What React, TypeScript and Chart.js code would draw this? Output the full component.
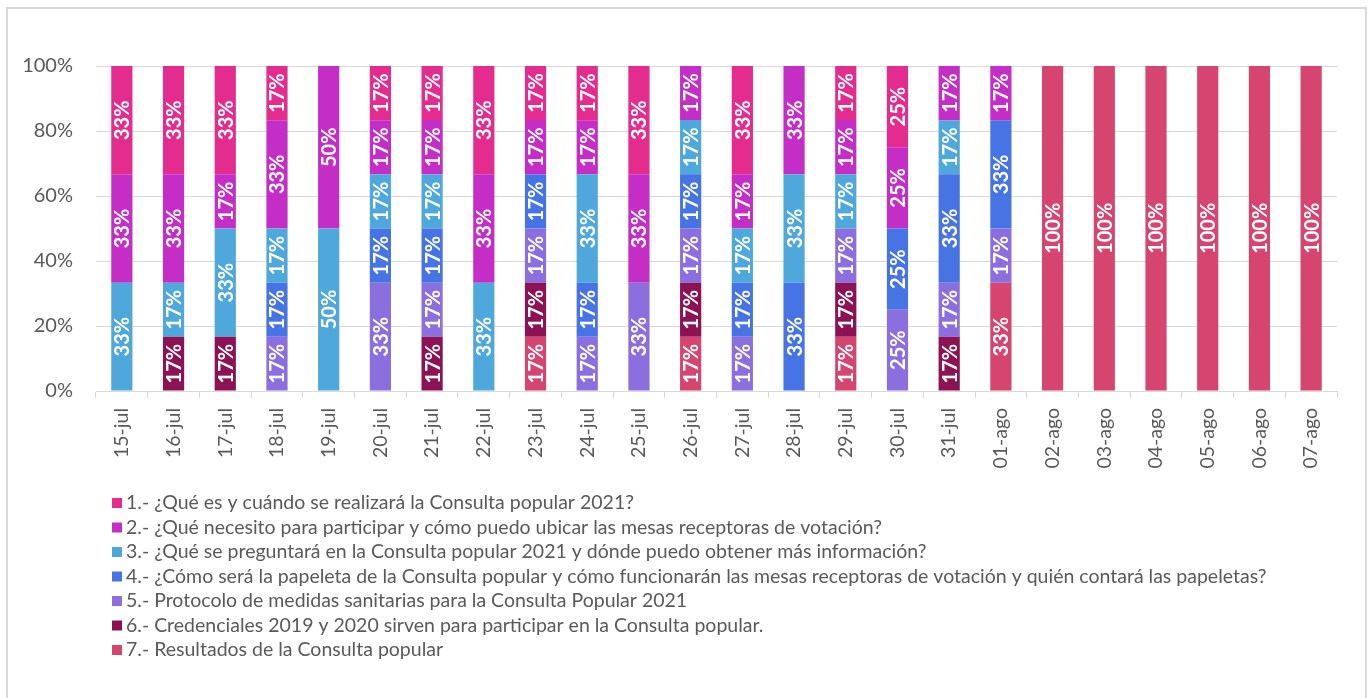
import { useEffect, useRef } from "react";
import { Chart, registerables } from "chart.js";

Chart.register(...registerables);

const categories = [
  "15-jul", "16-jul", "17-jul", "18-jul", "19-jul", "20-jul", "21-jul", "22-jul",
  "23-jul", "24-jul", "25-jul", "26-jul", "27-jul", "28-jul", "29-jul", "30-jul",
  "31-jul", "01-ago", "02-ago", "03-ago", "04-ago", "05-ago", "06-ago", "07-ago",
];

const serie1 = [33.33, 33.33, 33.33, 16.67, 0, 16.67, 16.67, 33.33, 16.67, 16.67, 33.33, 0, 33.33, 0, 16.67, 25, 0, 0, 0, 0, 0, 0, 0, 0];
const serie2 = [33.33, 33.33, 16.67, 33.33, 50, 16.67, 16.67, 33.33, 16.67, 16.67, 33.33, 16.67, 16.67, 33.33, 16.67, 25, 16.67, 16.67, 0, 0, 0, 0, 0, 0];
const serie3 = [33.33, 16.67, 33.33, 16.67, 50, 16.67, 16.67, 33.33, 0, 33.33, 0, 16.67, 16.67, 33.33, 16.67, 0, 16.67, 0, 0, 0, 0, 0, 0, 0];
const serie4 = [0, 0, 0, 16.67, 0, 16.67, 16.67, 0, 16.67, 16.67, 0, 16.67, 16.67, 33.33, 0, 25, 33.33, 33.33, 0, 0, 0, 0, 0, 0];
const serie5 = [0, 0, 0, 16.67, 0, 33.33, 16.67, 0, 16.67, 16.67, 33.33, 16.67, 16.67, 0, 16.67, 25, 16.67, 16.67, 0, 0, 0, 0, 0, 0];
const serie6 = [0, 16.67, 16.67, 0, 0, 0, 16.67, 0, 16.67, 0, 0, 16.67, 0, 0, 16.67, 0, 16.67, 0, 0, 0, 0, 0, 0, 0];
const serie7 = [0, 0, 0, 0, 0, 0, 0, 0, 16.67, 0, 0, 16.67, 0, 0, 16.67, 0, 0, 33.33, 100, 100, 100, 100, 100, 100];

const seriesNames = [
  "1.- ¿Qué es y cuándo se realizará la Consulta popular 2021?",
  "2.- ¿Qué necesito para participar y cómo puedo ubicar las mesas receptoras de votación?",
  "3.- ¿Qué se preguntará en la Consulta popular 2021 y dónde puedo obtener más información?",
  "4.- ¿Cómo será la papeleta de la Consulta popular y cómo funcionarán las mesas receptoras de votación y quién contará las papeletas?",
  "5.- Protocolo de medidas sanitarias para la Consulta Popular 2021",
  "6.- Credenciales 2019 y 2020 sirven para participar en la Consulta popular.",
  "7.- Resultados de la Consulta popular",
];

const seriesColors = ["#E32C8D", "#C42EC6", "#4FA8DC", "#4774E5", "#8B6FDF", "#8C1254", "#D54570"];

const FONT = "Lato";
const TEXT_COLOR = "#595959";

export default function App() {
  const ref = useRef<HTMLCanvasElement>(null);

  useEffect(() => {
    if (!ref.current) return;
    const series = [serie1, serie2, serie3, serie4, serie5, serie6, serie7];
    const datasets = series
      .map((d, i) => ({
        label: seriesNames[i],
        data: d,
        backgroundColor: seriesColors[i],
        borderWidth: 0,
        barPercentage: 0.41,
        categoryPercentage: 1,
      }))
      .reverse();

    const barLabels = {
      id: "barLabels",
      afterDatasetsDraw(chart: any) {
        const ctx = chart.ctx;
        ctx.save();
        ctx.fillStyle = "#ffffff";
        ctx.font = `bold 20px ${FONT}`;
        ctx.textAlign = "center";
        ctx.textBaseline = "middle";
        chart.data.datasets.forEach((ds: any, di: number) => {
          const meta = chart.getDatasetMeta(di);
          meta.data.forEach((el: any, idx: number) => {
            const v = ds.data[idx];
            if (!v) return;
            const cy = (el.y + el.base) / 2;
            ctx.save();
            ctx.translate(el.x, cy);
            ctx.rotate(-Math.PI / 2);
            ctx.fillText(Math.round(v) + "%", 0, 1);
            ctx.restore();
          });
        });
        ctx.restore();
      },
    };

    const listLegend = {
      id: "listLegend",
      afterDraw(chart: any) {
        const ctx = chart.ctx;
        ctx.save();
        ctx.font = `19.5px ${FONT}`;
        ctx.textBaseline = "middle";
        ctx.textAlign = "left";
        seriesNames.forEach((name, i) => {
          const y = 503 + i * 24.5;
          ctx.fillStyle = seriesColors[i];
          ctx.fillRect(112, y - 5, 10, 10);
          ctx.fillStyle = TEXT_COLOR;
          ctx.fillText(name, 126, y);
        });
        ctx.restore();
      },
    };

    const chart = new Chart(ref.current, {
      type: "bar",
      data: { labels: categories, datasets },
      options: {
        animation: false,
        responsive: false,
        layout: { padding: { top: 66, right: 33, left: 0, bottom: 0 } },
        plugins: { legend: { display: false }, tooltip: { enabled: false } },
        scales: {
          x: {
            stacked: true,
            grid: {
              display: true,
              drawOnChartArea: false,
              drawTicks: true,
              tickLength: 7,
              color: "#d9d9d9",
              offset: true,
            },
            border: { color: "#d9d9d9", width: 1 },
            ticks: {
              minRotation: 90,
              maxRotation: 90,
              autoSkip: false,
              color: TEXT_COLOR,
              font: { family: FONT, size: 19.5 },
              padding: 10,
            },
            afterFit: (s: any) => {
              s.height = 307;
            },
          },
          y: {
            stacked: true,
            min: 0,
            max: 100,
            ticks: {
              stepSize: 20,
              callback: (v: any) => v + "%",
              color: TEXT_COLOR,
              font: { family: FONT, size: 20 },
              padding: 23,
            },
            grid: { color: "#d9d9d9", drawTicks: false },
            border: { display: false },
            afterFit: (s: any) => {
              s.width = 96;
            },
          },
        },
      },
      plugins: [barLabels, listLegend],
    } as any);

    return () => chart.destroy();
  }, []);

  return (
    <div style={{ position: "fixed", left: 0, top: 0, width: 1370, height: 698, background: "#fff" }}>
      <canvas ref={ref} width={1370} height={698} style={{ width: 1370, height: 698, display: "block" }} />
      <div
        style={{
          position: "absolute",
          left: 6,
          top: 7,
          width: 1361,
          height: 700,
          border: "2px solid #d9d9d9",
          boxSizing: "border-box",
          pointerEvents: "none",
        }}
      />
    </div>
  );
}
